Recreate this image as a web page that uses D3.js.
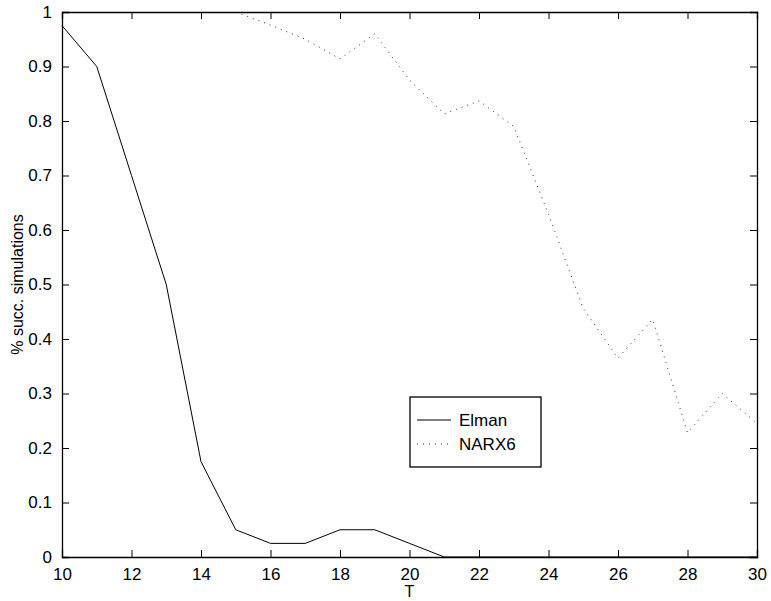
<!DOCTYPE html>
<html>
<head>
<meta charset="utf-8">
<script src="https://cdn.jsdelivr.net/npm/d3@7"></script>
<style>
  body { margin: 0; background: #fff; }
  text { font-family: "Liberation Sans", Arial, sans-serif; }
</style>
</head>
<body>
<div id="chart"></div>
<script>
// Data
var T = [10, 11, 12, 13, 14, 15, 16, 17, 18, 19, 20, 21, 22, 23, 24, 25, 26, 27, 28, 29, 30];
var elman = [0.975, 0.9, 0.7, 0.5, 0.175, 0.05, 0.025, 0.025, 0.05, 0.05, 0.025, 0, 0, 0, 0, 0, 0, 0, 0, 0, 0];
var narx6 = [1, 1, 1, 1, 1, 1, 0.976, 0.95, 0.914, 0.96, 0.875, 0.813, 0.837, 0.79, 0.629, 0.456, 0.365, 0.436, 0.228, 0.30, 0.245];
var xTicks = [10, 12, 14, 16, 18, 20, 22, 24, 26, 28, 30];
var yTicks = [0, 0.1, 0.2, 0.3, 0.4, 0.5, 0.6, 0.7, 0.8, 0.9, 1];

var W = 771, H = 601;
var margin = { top: 12, right: 14, bottom: 44, left: 62 },
    width = W - margin.left - margin.right,
    height = H - margin.top - margin.bottom;

var svg = d3.select("#chart").append("svg")
    .attr("width", W)
    .attr("height", H);

// clip so the dotted line hides under the top frame where it sits at 1
svg.append("defs").append("clipPath").attr("id", "plot-clip")
    .append("rect").attr("x", 0).attr("y", 1.5).attr("width", width).attr("height", height);

var g = svg.append("g")
    .attr("transform", "translate(" + margin.left + "," + margin.top + ")");

var x = d3.scaleLinear().domain([10, 30]).range([0, width]);
var y = d3.scaleLinear().domain([0, 1]).range([height, 0]);

var tickLen = 7;

// Lines first, so the frame sits on top of them
var line = d3.line()
    .x(function(d, i) { return x(T[i]); })
    .y(function(d) { return y(d); });

g.append("path")
    .datum(narx6)
    .attr("clip-path", "url(#plot-clip)")
    .attr("fill", "none")
    .attr("stroke", "#333")
    .attr("stroke-width", 1)
    .attr("stroke-dasharray", "1,5")
    .attr("d", line);

g.append("path")
    .datum(elman)
    .attr("fill", "none")
    .attr("stroke", "#000")
    .attr("stroke-width", 1)
    .attr("d", line);

// Axes with inward ticks
var xAxis = g.append("g")
    .attr("transform", "translate(0," + height + ")")
    .call(d3.axisBottom(x).tickValues(xTicks).tickSize(-tickLen).tickPadding(tickLen + 4).tickFormat(d3.format("d")));
var xTop = g.append("g")
    .call(d3.axisTop(x).tickValues(xTicks).tickSize(-tickLen).tickFormat(""));
var yAxis = g.append("g")
    .call(d3.axisLeft(y).tickValues(yTicks).tickSize(-tickLen).tickPadding(tickLen + 3)
        .tickFormat(function(d) { return d === 0 || d === 1 ? d3.format("d")(d) : d3.format(".1f")(d); }));
var yRight = g.append("g")
    .attr("transform", "translate(" + width + ",0)")
    .call(d3.axisRight(y).tickValues(yTicks).tickSize(-tickLen).tickFormat(""));

g.selectAll(".domain").attr("stroke", "#000").attr("stroke-width", 1.3);
g.selectAll(".tick line").attr("stroke", "#000");
g.selectAll(".tick text").attr("fill", "#000").style("font-size", "17px");
xAxis.selectAll(".tick text").attr("dy", "0.72em");

// Axis labels
svg.append("text")
    .attr("x", margin.left + x(20))
    .attr("y", 597)
    .attr("text-anchor", "middle")
    .style("font-size", "16px")
    .text("T");

svg.append("text")
    .attr("transform", "translate(23," + (margin.top + height / 2) + ") rotate(-90)")
    .attr("text-anchor", "middle")
    .style("font-size", "16px")
    .text("% succ. simulations");

// Legend
var legend = svg.append("g").attr("transform", "translate(410,397)");
legend.append("rect")
    .attr("width", 131).attr("height", 70)
    .attr("fill", "#fff").attr("stroke", "#000").attr("stroke-width", 1.3);

var series = [
    { name: "Elman", dash: null, color: "#000" },
    { name: "NARX6", dash: "1,5", color: "#333" }
];
series.forEach(function(s, i) {
    var yy = 23 + i * 24;
    legend.append("line")
        .attr("x1", 7).attr("x2", 41).attr("y1", yy).attr("y2", yy)
        .attr("stroke", s.color).attr("stroke-width", 1)
        .attr("stroke-dasharray", s.dash);
    legend.append("text")
        .attr("x", 49).attr("y", yy + 6)
        .style("font-size", "17px")
        .text(s.name);
});
</script>
</body>
</html>
